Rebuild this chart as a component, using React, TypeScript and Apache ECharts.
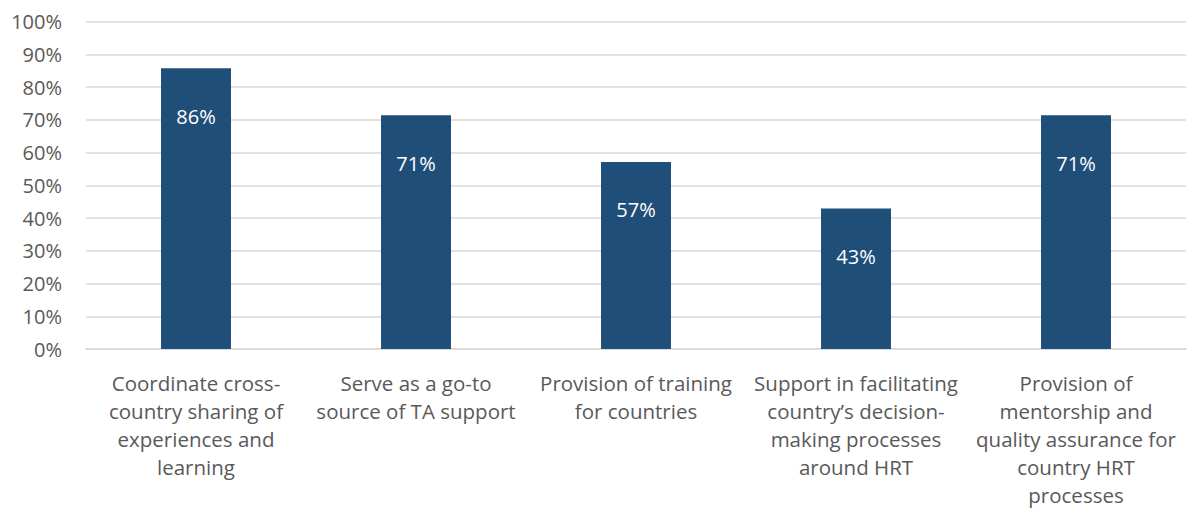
import React, { useEffect, useRef } from "react";
import * as echarts from "echarts";

const categories = [
  "Coordinate cross-\ncountry sharing of\nexperiences and\nlearning",
  "Serve as a go-to\nsource of TA support",
  "Provision of training\nfor countries",
  "Support in facilitating\ncountry\u2019s decision-\nmaking processes\naround HRT",
  "Provision of\nmentorship and\nquality assurance for\ncountry HRT\nprocesses",
];
const values = [85.7, 71.4, 57.1, 42.9, 71.4];

const FONT = "'Open Sans', Lato, sans-serif";

export default function App() {
  const ref = useRef<HTMLDivElement>(null);
  useEffect(() => {
    if (!ref.current) return;
    const chart = echarts.init(ref.current, null, { renderer: "svg" });
    chart.setOption({
      animation: false,
      grid: { left: 86, right: 2, top: 21.5, bottom: 159.5, containLabel: false },
      xAxis: {
        type: "category",
        data: categories,
        axisTick: { show: false },
        axisLine: { show: true, lineStyle: { color: "#D9D9D9", width: 1.5 } },
        axisLabel: {
          interval: 0,
          margin: 20,
          color: "#595959",
          fontFamily: FONT,
          fontSize: 20.5,
          lineHeight: 28,
        },
      },
      yAxis: {
        type: "value",
        min: 0,
        max: 100,
        interval: 10,
        axisLine: { show: false },
        axisTick: { show: false },
        splitLine: { lineStyle: { color: "#D9D9D9", width: 1.5 } },
        axisLabel: {
          formatter: "{value}%",
          margin: 24,
          color: "#595959",
          fontFamily: FONT,
          fontSize: 20,
        },
      },
      series: [
        {
          type: "bar",
          data: values,
          barWidth: 70,
          itemStyle: { color: "#1F4E79" },
          label: {
            show: true,
            position: "insideTop",
            distance: 38,
            color: "#FFFFFF",
            fontFamily: FONT,
            fontSize: 20,
            formatter: (p: any) => Math.round(p.value) + "%",
          },
        },
      ],
    });
    return () => chart.dispose();
  }, []);
  return <div ref={ref} style={{ width: 1188, height: 509, position: "absolute", left: 0, top: 0 }} />;
}
